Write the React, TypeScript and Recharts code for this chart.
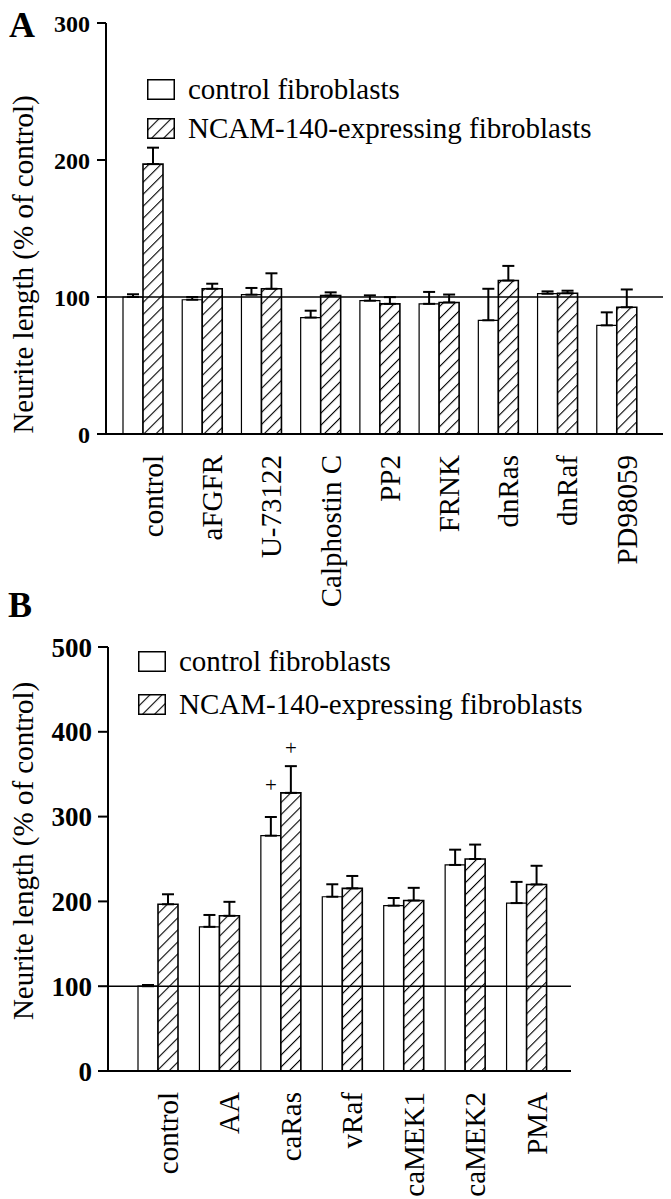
import React from "react";
import { BarChart, Bar, XAxis, YAxis, ReferenceLine, ErrorBar, LabelList, Legend } from "recharts";

const SERIF = "'Liberation Serif', 'Times New Roman', serif";
const Y_TITLE = "Neurite length (% of control)";
const SERIES_NAMES = ["control fibroblasts", "NCAM-140-expressing fibroblasts"];

// panel A: inhibitors
const panelACategories = ["control", "aFGFR", "U-73122", "Calphostin C", "PP2", "FRNK", "dnRas", "dnRaf", "PD98059"];
const panelAControl = [100, 98, 101.7, 85, 97.3, 95, 83, 102.4, 79.3];
const panelAControlErr = [2, 2, 4.9, 5, 3.9, 8.7, 23, 1.7, 9.5];
const panelANcam = [197, 106, 106, 101, 95, 96, 112, 102.7, 92.5];
const panelANcamErr = [12, 3.7, 11.3, 2.4, 4.9, 5.8, 10.7, 1.9, 13];
const panelATicks = [0, 100, 200, 300];

// panel B: activators
const panelBCategories = ["control", "AA", "caRas", "vRaf", "caMEK1", "caMEK2", "PMA"];
const panelBControl = [100, 170, 277.5, 205.5, 195, 243, 198];
const panelBControlErr = [1.4, 14, 22, 14.7, 9, 18, 25];
const panelBNcam = [196.6, 183, 328, 215.4, 201, 250, 220];
const panelBNcamErr = [11.8, 16.5, 31.5, 14.6, 15, 17, 22];
const panelBControlMark = ["", "", "+", "", "", "", ""];
const panelBNcamMark = ["", "", "+", "", "", "", ""];
const panelBTicks = [0, 100, 200, 300, 400, 500];

function buildRows(cats: string[], ctrl: number[], ctrlErr: number[], ncam: number[], ncamErr: number[], ctrlMark?: string[], ncamMark?: string[]) {
  return cats.map((name, i) => ({
    name,
    ctrl: ctrl[i],
    ctrlErr: [0, ctrlErr[i]],
    ncam: ncam[i],
    ncamErr: [0, ncamErr[i]],
    ctrlMark: ctrlMark ? ctrlMark[i] : "",
    ncamMark: ncamMark ? ncamMark[i] : "",
  }));
}

const rowsA = buildRows(panelACategories, panelAControl, panelAControlErr, panelANcam, panelANcamErr);
const rowsB = buildRows(panelBCategories, panelBControl, panelBControlErr, panelBNcam, panelBNcamErr, panelBControlMark, panelBNcamMark);

const Hatch = ({ id }: { id: string }) => (
  <pattern id={id} width={8.5} height={8.5} patternUnits="userSpaceOnUse" patternTransform="rotate(45)">
    <rect width={8.5} height={8.5} fill="#fff" />
    <line x1={0} y1={0} x2={0} y2={8.5} stroke="#000" strokeWidth={2.2} />
  </pattern>
);

const CategoryTick = (props: any) => {
  const { x, y, payload } = props;
  const ty = y + 21;
  return (
    <text x={x} y={ty} dy="0.7em" transform={`rotate(-90, ${x}, ${ty})`} textAnchor="end"
      fontFamily={SERIF} fontSize={29} fill="#000">
      {payload.value}
    </text>
  );
};

const AxisTitle = (props: any) => {
  const { viewBox, shift = 0, x0 = 33 } = props;
  if (!viewBox) return null;
  const cx = viewBox.x + x0;
  const cy = viewBox.y + viewBox.height / 2 + shift;
  return (
    <text x={cx} y={cy} transform={`rotate(-90, ${cx}, ${cy})`} textAnchor="middle"
      fontFamily={SERIF} fontSize={29} fill="#000">
      {Y_TITLE}
    </text>
  );
};

// little "+" above significant bars, lifted from the bar top
const MarkLabel = (props: any) => {
  const { x, y, width, value, lift } = props;
  if (!value) return null;
  return (
    <text x={Number(x) + Number(width) / 2} y={Number(y) - lift} textAnchor="middle" fontFamily={SERIF} fontSize={21} fill="#000">
      {value}
    </text>
  );
};

const LegendContent = (props: any) => {
  const { payload = [], rowHeight, hatchId } = props;
  const items = [...payload].sort((a: any, b: any) => (a.dataKey === "ctrl" ? 0 : 1) - (b.dataKey === "ctrl" ? 0 : 1));
  return (
    <div>
      {items.map((entry: any, i: number) => (
        <div key={i} style={{ display: "flex", alignItems: "center", height: rowHeight }}>
          <svg width={28} height={21} style={{ display: "block" }}>
            <defs><Hatch id={hatchId} /></defs>
            <rect x={0.75} y={0.75} width={26.5} height={19.5} stroke="#000" strokeWidth={1.5}
              fill={entry.dataKey === "ncam" ? `url(#${hatchId})` : "#fff"} />
          </svg>
          <span style={{ marginLeft: 13, fontFamily: SERIF, fontSize: 29, lineHeight: 1, color: "#000", whiteSpace: "nowrap" }}>
            {entry.value}
          </span>
        </div>
      ))}
    </div>
  );
};

function Panel(props: any) {
  const { id, rows, ticks, top, height, margin, yWidth, xHeight, padding, tickFont, tickSize, tickMargin, titleShift, legendPos, legendRow } = props;
  const hatch = `hatch${id}`;
  return (
    <div style={{ position: "absolute", left: 0, top, width: 671, height }}>
      <BarChart width={671} height={height} data={rows} margin={margin} barGap={0}>
        <defs><Hatch id={hatch} /></defs>
        <XAxis dataKey="name" interval={0} tickLine={false} tickSize={0} tickMargin={0} height={xHeight}
          padding={padding} axisLine={{ stroke: "#000", strokeWidth: 2 }} tick={<CategoryTick />} />
        <YAxis type="number" domain={[0, ticks[ticks.length - 1]]} ticks={ticks} interval={0} width={yWidth}
          tickSize={tickSize} tickMargin={tickMargin}
          axisLine={{ stroke: "#000", strokeWidth: 2 }} tickLine={{ stroke: "#000", strokeWidth: 2 }}
          tick={{ fill: "#000", fontFamily: SERIF, fontWeight: 700, fontSize: tickFont }}
          label={<AxisTitle shift={titleShift} x0={33} />} />
        <Legend layout="vertical" align="center" verticalAlign="middle"
          wrapperStyle={{ left: legendPos.left, top: legendPos.top, width: "auto" }}
          content={<LegendContent rowHeight={legendRow} hatchId={`leg${id}`} />} />
        <Bar dataKey="ctrl" name={SERIES_NAMES[0]} fill="#fff" stroke="#000" strokeWidth={1.2} barSize={20} isAnimationActive={false}>
          <ErrorBar dataKey="ctrlErr" direction="y" width={6} stroke="#000" strokeWidth={2} />
          <LabelList dataKey="ctrlMark" content={<MarkLabel lift={44} />} />
        </Bar>
        <Bar dataKey="ncam" name={SERIES_NAMES[1]} fill={`url(#${hatch})`} stroke="#000" strokeWidth={1.6} barSize={20} isAnimationActive={false}>
          <ErrorBar dataKey="ncamErr" direction="y" width={6} stroke="#000" strokeWidth={2} />
          <LabelList dataKey="ncamMark" content={<MarkLabel lift={38} />} />
        </Bar>
        <ReferenceLine y={100} stroke="#000" strokeWidth={1.5} />
      </BarChart>
    </div>
  );
}

const letterStyle: React.CSSProperties = {
  position: "absolute", fontFamily: SERIF, fontWeight: 700, fontSize: 36, lineHeight: 1, color: "#000",
};

export default function App() {
  return (
    <div style={{ position: "absolute", left: 0, top: 0, width: 671, height: 1199, background: "#fff", overflow: "hidden" }}>
      <Panel id="A" rows={rowsA} ticks={panelATicks} top={0} height={640}
        margin={{ top: 23, right: 8, left: 0, bottom: 0 }} yWidth={106} xHeight={206}
        padding={{ left: 7, right: 17 }} tickFont={24} tickSize={9} tickMargin={7} titleShift={36}
        legendPos={{ left: 147, top: 70 }} legendRow={39} />
      <Panel id="B" rows={rowsB} ticks={panelBTicks} top={590} height={609}
        margin={{ top: 57, right: 100, left: 0, bottom: 0 }} yWidth={108} xHeight={128}
        padding={{ left: 19, right: 14 }} tickFont={27} tickSize={10} tickMargin={6} titleShift={-8}
        legendPos={{ left: 138, top: 50 }} legendRow={43} />
      <div style={{ ...letterStyle, left: 9, top: 7 }}>A</div>
      <div style={{ ...letterStyle, left: 8, top: 587 }}>B</div>
    </div>
  );
}
